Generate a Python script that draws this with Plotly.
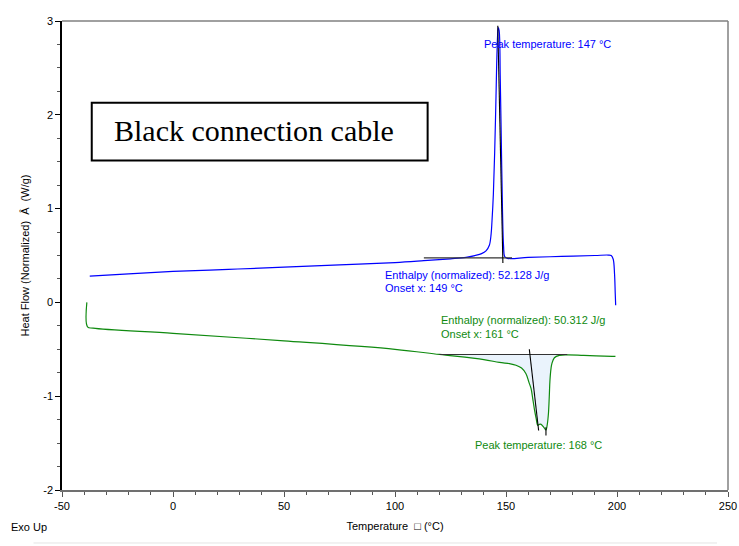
import numpy as np
import plotly.graph_objects as go

# ---- data ----
blue_T = [-37.5, -20, 0, 25, 50, 75, 100, 113, 125, 132, 136, 139, 141, 142.5, 143.3, 143.7, 144.3,
          144.9, 145.5, 146.0, 146.5, 146.9, 147.4, 147.9, 148.4, 148.9, 149.4, 150.6, 160, 175,
          190, 196, 197.4, 198.3, 198.9, 199.2, 199.4]
blue_y = [0.28, 0.305, 0.33, 0.352, 0.375, 0.40, 0.425, 0.445, 0.465, 0.48, 0.50, 0.52, 0.55, 0.61,
          0.73, 0.87, 1.15, 1.6, 2.2, 2.7, 2.93, 2.9, 2.4, 1.7, 1.0, 0.6, 0.49, 0.47, 0.48, 0.49,
          0.50, 0.505, 0.50, 0.46, 0.30, 0.10, -0.03]

green_T = [-38.8, -38.5, -36, 0, 50, 100, 120, 140, 147, 152, 154.5, 157, 159, 160.3, 161.3,
           162.0, 162.8, 163.6, 164.3, 165.0, 165.8, 166.6, 167.3, 168.0, 168.6, 169.1, 169.5,
           169.8, 170.3, 170.7, 171.8, 174, 177.6, 185, 197.8, 199.3]
green_y = [0.0, -0.26, -0.275, -0.33, -0.41, -0.50, -0.555, -0.61, -0.64, -0.655, -0.67, -0.70,
           -0.76, -0.85, -0.92, -1.02, -1.14, -1.24, -1.31, -1.30, -1.30, -1.32, -1.34, -1.36,
           -1.30, -1.19, -1.0, -0.83, -0.70, -0.65, -0.59, -0.565, -0.56, -0.565, -0.575, -0.575]

blue_base_T = [113, 152.7]
blue_base_y = [0.475, 0.475]
blue_tan_T = [146.3, 148.6]
blue_tan_y = [2.95, 0.42]

green_base_T = [120, 177.6]
green_base_y = [-0.555, -0.555]
green_tan_T = [160.5, 164.7]
green_tan_y = [-0.50, -1.365]
green_peak_T = [168.0, 168.0]
green_peak_y = [-1.33, -1.42]

x_ticks = [-50, 0, 50, 100, 150, 200, 250]
x_tick_labels = ["-50", "0", "50", "100", "150", "200", "250"]
y_ticks = [-2, -1, 0, 1, 2, 3]
y_tick_labels = ["-2", "-1", "0", "1", "2", "3"]

BLUE = "#0000ff"
GREEN = "#0f8a0f"
FONT = "Liberation Sans, Arial, sans-serif"

fig = go.Figure()

# shaded enthalpy area for the green curve
gT = np.array(green_T)
gY = np.array(green_y)
m = (gT >= green_base_T[0]) & (gT <= green_base_T[1])
fill_T = [green_base_T[0]] + list(gT[m]) + [green_base_T[1]]
fill_y = [green_base_y[0]] + list(gY[m]) + [green_base_y[1]]
fig.add_trace(go.Scatter(x=fill_T, y=fill_y, fill="toself", fillcolor="#eaf3fc",
                         line=dict(width=0), mode="lines", hoverinfo="skip", showlegend=False))

# curves
fig.add_trace(go.Scatter(x=blue_T, y=blue_y, mode="lines", line=dict(color=BLUE, width=1.2),
                         line_shape="spline", showlegend=False))
fig.add_trace(go.Scatter(x=green_T, y=green_y, mode="lines", line=dict(color=GREEN, width=1.2),
                         line_shape="spline", showlegend=False))

# analysis lines
for xs, ys, c in [(blue_base_T, blue_base_y, "#333333"), (blue_tan_T, blue_tan_y, "black"),
                  (green_base_T, green_base_y, "#333333"), (green_tan_T, green_tan_y, "black"),
                  (green_peak_T, green_peak_y, "black")]:
    fig.add_trace(go.Scatter(x=xs, y=ys, mode="lines", line=dict(color=c, width=1.1),
                             showlegend=False, hoverinfo="skip"))

# annotations
ann = [
    ("Peak temperature: 147 °C", 139.4, 2.756, BLUE),
    ("Enthalpy (normalized): 52.128 J/g", 94.6, 0.295, BLUE),
    ("Onset x: 149 °C", 94.6, 0.152, BLUE),
    ("Enthalpy (normalized): 50.312 J/g", 119.7, -0.192, GREEN),
    ("Onset x: 161 °C", 119.7, -0.334, GREEN),
    ("Peak temperature: 168 °C", 135.0, -1.525, GREEN),
]
for t, x, y, c in ann:
    fig.add_annotation(x=x, y=y, text=t, showarrow=False, xanchor="left", yanchor="middle",
                       font=dict(family=FONT, size=11, color=c))

# title box
fig.add_shape(type="rect", xref="x", yref="y", x0=-36.6, x1=114.7, y0=1.514, y1=2.129,
              line=dict(color="black", width=2), fillcolor="white", layer="above")
fig.add_annotation(x=36.5, y=1.834, text="Black connection cable", showarrow=False,
                   font=dict(family="Liberation Serif, Times New Roman, serif", size=30, color="black"))

# top / right frame lines
fig.add_shape(type="line", xref="paper", yref="paper", x0=0, x1=1, y0=1, y1=1,
              line=dict(color="#808080", width=1.5))
fig.add_shape(type="line", xref="paper", yref="paper", x0=1, x1=1, y0=0, y1=1,
              line=dict(color="#808080", width=1.5))
# faint line at the very bottom
fig.add_shape(type="line", xref="paper", yref="paper", x0=-0.0428, x1=0.9835, y0=-0.113, y1=-0.113,
              line=dict(color="#e4e4e4", width=1))

fig.add_annotation(xref="paper", yref="paper", x=-0.079, y=-0.079, text="Exo Up", showarrow=False,
                   xanchor="left", yanchor="middle", font=dict(family=FONT, size=11, color="black"))

fig.update_xaxes(range=[-50, 250], tickvals=x_ticks, ticktext=x_tick_labels, ticks="outside",
                 ticklen=5, tickcolor="#555",
                 showline=True, linecolor="#707070", linewidth=1.5, showgrid=False, zeroline=False,
                 minor=dict(dtick=10, ticks="outside", ticklen=3, tickcolor="#555"),
                 tickfont=dict(family=FONT, size=11, color="black"),
                 title=dict(text="Temperature  \u25a1 (°C)", font=dict(family=FONT, size=11, color="black"),
                            standoff=11))
fig.update_yaxes(range=[-2, 3], tickvals=y_ticks, ticktext=y_tick_labels, ticks="outside",
                 ticklen=5, tickcolor="black",
                 showline=True, linecolor="black", linewidth=1.5, showgrid=False, zeroline=False,
                 minor=dict(dtick=0.25, ticks="outside", ticklen=3, tickcolor="#555"),
                 tickfont=dict(family=FONT, size=11, color="black"),
                 title=dict(text="Heat Flow (Normalized)  Â  (W/g)",
                            font=dict(family=FONT, size=11, color="black"), standoff=11))

fig.update_layout(width=739, height=546, margin=dict(l=61.5, r=11, t=21, b=56, autoexpand=False),
                  plot_bgcolor="white", paper_bgcolor="white", showlegend=False)

fig.write_html("out.html", config={"displayModeBar": False},
               post_script="document.body.style.margin='0';document.body.style.overflow='hidden';")
